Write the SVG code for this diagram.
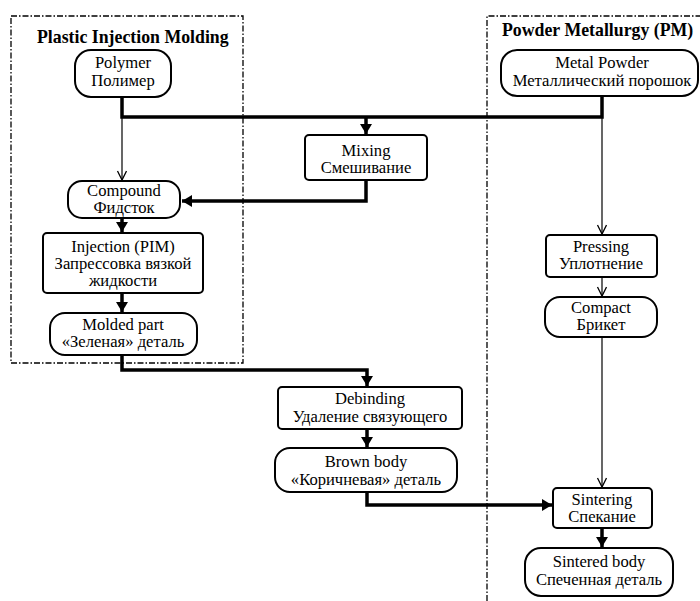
<svg xmlns="http://www.w3.org/2000/svg" width="700" height="601" viewBox="0 0 700 601">
<style>
.bx{fill:#fff;stroke:#000;stroke-width:2}
.t{font-family:"Liberation Serif","Times New Roman",serif;font-size:16.6px;text-anchor:middle;fill:#000}
.h{font-family:"Liberation Serif","Times New Roman",serif;font-size:17.8px;font-weight:bold;fill:#000}
.frame{fill:none;stroke:#000;stroke-width:1.3;stroke-dasharray:6 2 1.5 2}
.thick{fill:none;stroke:#000;stroke-width:3.5}
.thin{fill:none;stroke:#000;stroke-width:1.2}
</style>
<defs>
<marker id="ah" markerWidth="12" markerHeight="12" refX="10" refY="6" orient="auto" markerUnits="userSpaceOnUse">
<path d="M0,0 L10,6 L0,12 z" fill="#000"/>
</marker>
<marker id="av" markerWidth="12" markerHeight="12" refX="10" refY="5" orient="auto" markerUnits="userSpaceOnUse">
<path d="M1,0.5 L10,5 L1,9.5" fill="none" stroke="#000" stroke-width="1.3"/>
</marker>
</defs>
<rect width="700" height="601" fill="#fff"/>
<g id="frames">
<rect class="frame" x="11" y="16" width="232" height="347"/>
<path class="frame" d="M487,601 L487,16 L700,16"/>
<text class="h" x="37" y="43">Plastic Injection Molding</text>
<text class="h" x="502" y="36">Powder Metallurgy (PM)</text>
</g>
<g id="connectors">
<path class="thick" d="M122,97 L122,117 L602,117 L602,97"/>
<path class="thin" d="M122,117 L122,180" marker-end="url(#av)"/>
<path class="thick" d="M366,117 L366,134" marker-end="url(#ah)"/>
<path class="thick" d="M366,180 L366,201 L182,201" marker-end="url(#ah)"/>
<path class="thick" d="M122,218 L122,232" marker-end="url(#ah)"/>
<path class="thick" d="M122,293 L122,312" marker-end="url(#ah)"/>
<path class="thick" d="M122,355 L122,370 L367,370 L367,386" marker-end="url(#ah)"/>
<path class="thick" d="M367,429 L367,447" marker-end="url(#ah)"/>
<path class="thick" d="M367,492 L367,505 L552,505" marker-end="url(#ah)"/>
<path class="thin" d="M602,117 L602,234" marker-end="url(#av)"/>
<path class="thin" d="M602,277 L602,296" marker-end="url(#av)"/>
<path class="thin" d="M602,337 L602,487" marker-end="url(#av)"/>
<path class="thick" d="M602,528 L602,547" marker-end="url(#ah)"/>
</g>
<g id="polymer">
<rect class="bx" x="75" y="50" width="96" height="47" rx="16"/>
<text class="t" x="123" y="68">Polymer<tspan x="123" dy="18">Полимер</tspan></text>
</g>
<g id="metal-powder">
<rect class="bx" x="501" y="50" width="197" height="46" rx="16"/>
<text class="t" x="602" y="68">Metal Powder<tspan x="602" dy="18">Металлический порошок</tspan></text>
</g>
<g id="mixing">
<rect class="bx" x="305" y="135" width="122" height="45" rx="4"/>
<text class="t" x="366" y="156">Mixing<tspan x="366" dy="17">Смешивание</tspan></text>
</g>
<g id="compound">
<rect class="bx" x="68" y="181" width="112" height="37" rx="14"/>
<text class="t" x="124" y="196">Compound<tspan x="124" dy="17">Фидсток</tspan></text>
</g>
<g id="injection">
<rect class="bx" x="43" y="233" width="160" height="60" rx="4"/>
<text class="t" x="123" y="252">Injection (PIM)<tspan x="123" dy="17">Запрессовка вязкой</tspan><tspan x="123" dy="17">жидкости</tspan></text>
</g>
<g id="molded-part">
<rect class="bx" x="50" y="313" width="147" height="42" rx="15"/>
<text class="t" x="123" y="330">Molded part<tspan x="123" dy="17">«Зеленая» деталь</tspan></text>
</g>
<g id="debinding">
<rect class="bx" x="278" y="387" width="184" height="42" rx="4"/>
<text class="t" x="370" y="404">Debinding<tspan x="370" dy="18">Удаление связующего</tspan></text>
</g>
<g id="brown-body">
<rect class="bx" x="275" y="448" width="182" height="44" rx="15"/>
<text class="t" x="366" y="467">Brown body<tspan x="366" dy="18">«Коричневая» деталь</tspan></text>
</g>
<g id="pressing">
<rect class="bx" x="546" y="235" width="111" height="42" rx="4"/>
<text class="t" x="601" y="252">Pressing<tspan x="601" dy="17">Уплотнение</tspan></text>
</g>
<g id="compact">
<rect class="bx" x="545" y="297" width="112" height="40" rx="15"/>
<text class="t" x="601" y="313">Compact<tspan x="601" dy="17">Брикет</tspan></text>
</g>
<g id="sintering">
<rect class="bx" x="553" y="488" width="99" height="40" rx="4"/>
<text class="t" x="602" y="505">Sintering<tspan x="602" dy="17">Спекание</tspan></text>
</g>
<g id="sintered-body">
<rect class="bx" x="525" y="548" width="148" height="48" rx="16"/>
<text class="t" x="599" y="567">Sintered body<tspan x="599" dy="18">Спеченная деталь</tspan></text>
</g>
</svg>
